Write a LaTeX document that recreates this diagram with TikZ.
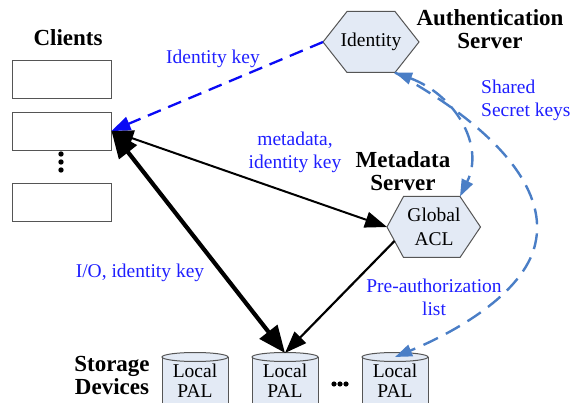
\documentclass[tikz,border=0pt]{standalone}
\usepackage{fontspec}
\setmainfont{Liberation Serif}
\usetikzlibrary{arrows.meta,backgrounds}
\definecolor{hexfill}{HTML}{E3EAF5}
\definecolor{edgegray}{HTML}{555555}
\definecolor{lblblue}{HTML}{1F1FFF}
\definecolor{keyblue}{HTML}{0A0AF5}
\definecolor{steel}{HTML}{4A7EC6}
\begin{document}
\begin{tikzpicture}[x=1pt,y=-1pt,
  lbl/.style={text=lblblue, font=\fontsize{19.5}{23}\selectfont, align=center, inner sep=0},
  boldlbl/.style={font=\fontsize{23}{23}\selectfont\bfseries, align=center, inner sep=0},
  clientbox/.style={draw=edgegray, line width=0.9pt, fill=white, minimum width=99pt, minimum height=38pt, inner sep=0},
  hextext/.style={font=\fontsize{19.5}{24}\selectfont, align=center, inner sep=0},
  hexshape/.style={draw=edgegray, fill=hexfill, line width=1pt, line join=miter},
  cyltext/.style={font=\fontsize{19.5}{20}\selectfont, align=center, inner sep=0},
  cylshape/.style={draw=edgegray, fill=hexfill, line width=1pt},
  idkey/.style={draw=keyblue, line width=2.3pt, dash pattern=on 14pt off 8pt, -{Triangle[length=19pt,width=14pt]}},
  metaarrow/.style={draw=black, line width=2pt, {Triangle[length=22pt,width=16pt]}-{Triangle[length=22pt,width=16pt]}},
  ioarrow/.style={draw=black, line width=4.2pt, {Triangle[length=27pt,width=22pt]}-{Triangle[length=27pt,width=22pt]}},
  prearrow/.style={draw=black, line width=2.2pt, -{Triangle[length=22pt,width=16pt]}},
  shared/.style={draw=steel, line width=2.4pt, dash pattern=on 16pt off 9pt},
  sharedboth/.style={{Triangle[length=17pt,width=12pt]}-{Triangle[length=17pt,width=12pt]}},
  sharedend/.style={-{Triangle[length=17pt,width=12pt]}}
]
\useasboundingbox (0,0) rectangle (573,403);

% Clients
\node[boldlbl] (cli) at (68,38) {Clients};
\node[clientbox] (c1) at (61.5,79) {};
\node[clientbox] (c2) at (61.5,131) {};
\node[clientbox] (c3) at (61.5,202.5) {};
\foreach \yy in {154,162,170} \fill (61,\yy) circle (2.7pt);

% Identity hexagon
\draw[hexshape] (323,42) -- (347,11.5) -- (395,11.5) -- (419,42) -- (395,72.5) -- (347,72.5) -- cycle;
\node[hextext] (id) at (371,42) {Identity};
\coordinate (idL) at (323,42);
\coordinate (idBR) at (395,72.5);
\node[boldlbl] (auth) at (490,29.5) {Authentication\\Server};

% Global ACL hexagon
\draw[hexshape] (387,227) -- (403.5,196.5) -- (460,196.5) -- (480.5,227) -- (460,257.5) -- (403.5,257.5) -- cycle;
\node[hextext] (acl) at (434,227) {Global\\ACL};
\coordinate (aclL) at (387,227);
\coordinate (aclTR) at (460,196.5);
\coordinate (aclLL) at (394.5,241);
\node[boldlbl] (meta) at (403,171.5) {Metadata\\Server};

% Storage devices
\begin{scope}
\clip (0,0) rectangle (573,403);
\foreach \cx in {195,285,395} {
  \fill[hexfill] (\cx-33,357) rectangle (\cx+33,420);
  \draw[edgegray, line width=1pt] (\cx-33,357) -- (\cx-33,420) (\cx+33,357) -- (\cx+33,420);
  \draw[cylshape] (\cx,357) ellipse [x radius=33pt, y radius=4.5pt];
}
\end{scope}
\node[cyltext] (cylA) at (195,381) {Local\\PAL};
\node[cyltext] (cylB) at (285,381) {Local\\PAL};
\node[cyltext] (cylC) at (395,381) {Local\\PAL};
\coordinate (topB) at (285,353);
\coordinate (topC) at (395,357);
\foreach \xx in {334,340,346} \fill (\xx,384) circle (2.6pt);
\node[boldlbl] (stor) at (112,375.5) {Storage\\Devices};

% Connectors
\draw[idkey] (idL) -- (c2.east);
\draw[metaarrow] (c2.east) -- (aclL);
\draw[ioarrow] (c2.east) -- (topB);
\draw[prearrow] (aclLL) -- (topB);
\draw[shared, sharedboth] (idBR) .. controls (455,95) and (485,145) .. (aclTR);
\draw[shared, sharedend] (idBR) .. controls (500,130) and (545,190) .. (536,240) .. controls (528,290) and (460,330) .. (topC);

% Labels
\node[lbl] (lid) at (213,59) {Identity key};
\node[lbl] (lmeta) at (295,152) {metadata,\\identity key};
\node[lbl] (lio) at (140,273) {I/O, identity key};
\node[lbl, align=left, anchor=west] (lsh) at (481,100) {Shared\\Secret keys};
\node[lbl] (lpre) at (434,297.5) {Pre-authorization\\list};
\end{tikzpicture}
\end{document}
